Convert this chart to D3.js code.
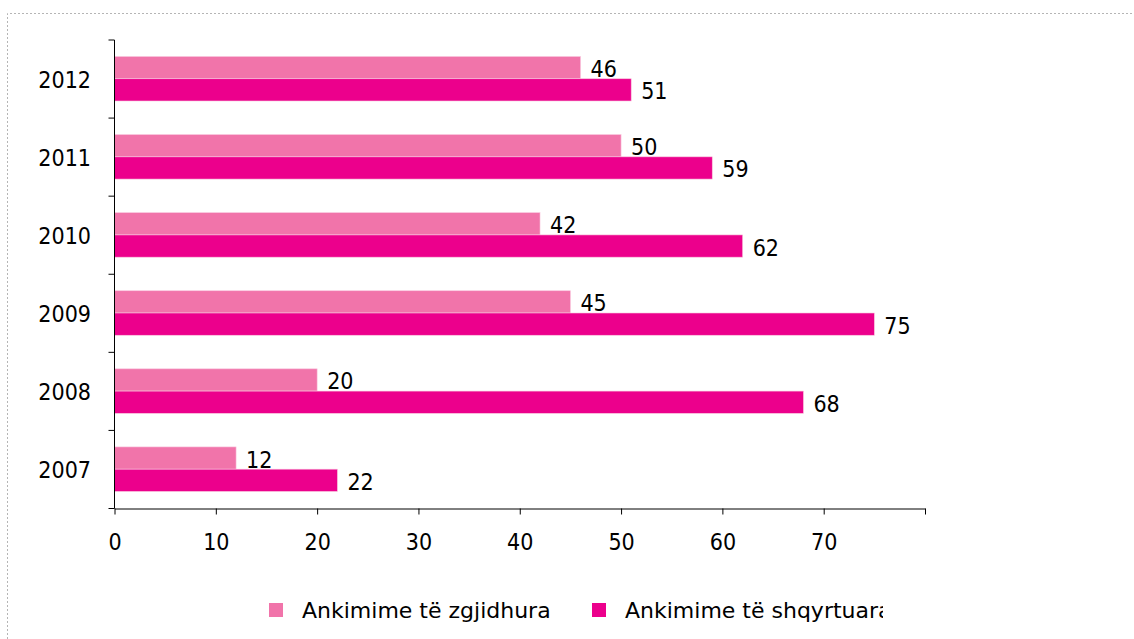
<!DOCTYPE html>
<html>
<head>
<meta charset="utf-8">
<script src="https://cdn.jsdelivr.net/npm/d3@7.9.0/dist/d3.min.js"></script>
<style>
  html, body { margin: 0; padding: 0; background: #fff; }
  svg { display: block; font-family: "DejaVu Sans Condensed", "DejaVu Sans", sans-serif; }
</style>
</head>
<body>
<div id="chart"></div>
<script>
// chart values
const years = ['2012', '2011', '2010', '2009', '2008', '2007'];
const zgjidhura = [46, 50, 42, 45, 20, 12];
const shqyrtuara = [51, 59, 62, 75, 68, 22];
const seriesNames = ['Ankimime të zgjidhura', 'Ankimime të shqyrtuara'];
const seriesColors = ['#f174aa', '#ec008c'];
const xTicks = [0, 10, 20, 30, 40, 50, 60, 70, 80];

const width = 1134;
const height = 639;
const fontSize = 23;

const rows = years.map((y, i) => ({ year: y, values: [zgjidhura[i], shqyrtuara[i]] }));

const svg = d3.select('#chart')
  .append('svg')
  .attr('width', width)
  .attr('height', height);

// dotted frame (top and left)
svg.append('path')
  .attr('d', `M7.5,${height} V13.5 H${width}`)
  .attr('fill', 'none')
  .attr('stroke', '#b5b5b5')
  .attr('stroke-width', 1)
  .attr('stroke-dasharray', '2,2');

const plot = { left: 114.5, right: 925, top: 40, bottom: 508.5 };

const x = d3.scaleLinear().domain([0, 80]).range([plot.left, plot.right]);
const y = d3.scaleBand().domain(years).range([plot.top, plot.bottom]);
const inner = d3.scaleBand().domain([0, 1]).range([16.5, 61]);

// bars
const groups = svg.append('g')
  .selectAll('g')
  .data(rows)
  .join('g')
  .attr('transform', d => `translate(0,${y(d.year)})`);

groups.selectAll('rect')
  .data(d => d.values.map((v, k) => ({ v, k })))
  .join('rect')
  .attr('x', x(0))
  .attr('y', d => inner(d.k))
  .attr('width', d => x(d.v) - x(0))
  .attr('height', inner.bandwidth())
  .attr('fill', d => seriesColors[d.k])
  .attr('stroke', '#f9c6dd')
  .attr('stroke-width', 0.6);

groups.selectAll('text')
  .data(d => d.values.map((v, k) => ({ v, k })))
  .join('text')
  .attr('x', d => x(d.v) + 10)
  .attr('y', d => inner(d.k) + inner.bandwidth() / 2 + 9.5)
  .attr('font-size', fontSize)
  .attr('fill', '#000')
  .text(d => d.v);

// x axis
const xAxis = svg.append('g')
  .attr('transform', `translate(0,${plot.bottom})`)
  .call(d3.axisBottom(x)
    .tickValues(xTicks)
    .tickSize(6)
    .tickSizeOuter(0)
    .tickFormat(d => d === 80 ? '' : d));
xAxis.selectAll('path, line').attr('stroke', '#000');
xAxis.selectAll('text')
  .attr('font-size', fontSize)
  .attr('font-family', '"DejaVu Sans Condensed", "DejaVu Sans", sans-serif')
  .attr('fill', '#000')
  .attr('dy', null)
  .attr('y', 41);

// y axis: line with ticks at category boundaries
const yAxis = svg.append('g');
yAxis.append('line')
  .attr('x1', plot.left).attr('x2', plot.left)
  .attr('y1', plot.top).attr('y2', plot.bottom)
  .attr('stroke', '#000');
yAxis.selectAll('line.tick')
  .data(years.map(d => y(d)).concat([plot.bottom]))
  .join('line')
  .attr('class', 'tick')
  .attr('x1', plot.left - 6).attr('x2', plot.left)
  .attr('y1', d => d).attr('y2', d => d)
  .attr('stroke', '#000');
yAxis.selectAll('text')
  .data(years)
  .join('text')
  .attr('x', 91)
  .attr('y', d => y(d) + y.bandwidth() / 2 + 8.5)
  .attr('text-anchor', 'end')
  .attr('font-size', fontSize)
  .attr('fill', '#000')
  .text(d => d);

// legend (clipped at right like the original)
svg.append('clipPath').attr('id', 'legclip')
  .append('rect').attr('x', 0).attr('y', 560).attr('width', 883).attr('height', 80);

const legend = svg.append('g').attr('clip-path', 'url(#legclip)');
const legendX = [269, 592];
const item = legend.selectAll('g')
  .data(seriesNames)
  .join('g')
  .attr('transform', (d, i) => `translate(${legendX[i]},603)`);
item.append('rect')
  .attr('width', 14).attr('height', 14)
  .attr('fill', (d, i) => seriesColors[i]);
item.append('text')
  .attr('x', 33)
  .attr('y', 14.5)
  .attr('font-family', '"DejaVu Sans", sans-serif')
  .attr('font-size', 22)
  .attr('fill', '#000')
  .text(d => d);
</script>
</body>
</html>
